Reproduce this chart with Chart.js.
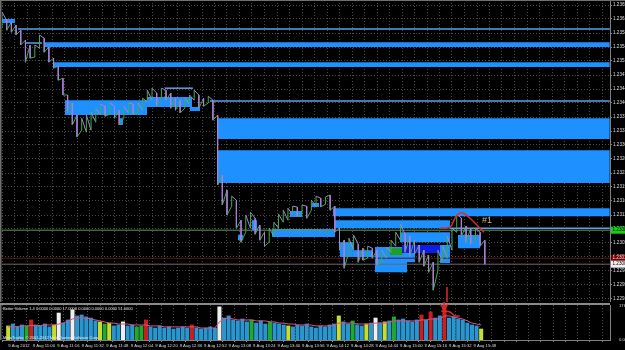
<!DOCTYPE html>
<html>
<head>
<meta charset="utf-8">
<script src="https://cdn.jsdelivr.net/npm/chart.js@4.4.1/dist/chart.umd.min.js"></script>
<style>
  html, body { margin: 0; padding: 0; background: #000; }
  #wrap { position: relative; width: 625px; height: 350px; background: #000; overflow: hidden; }
  #priceBox { position: absolute; left: 0; top: 0; width: 625px; height: 302px; }
  #volBox { position: absolute; left: 0; top: 302px; width: 625px; height: 48px; }
</style>
</head>
<body>
<div id="wrap">
  <div id="priceBox"><canvas id="priceChart"></canvas></div>
  <div id="volBox"><canvas id="volChart"></canvas></div>
</div>
<script>
// time axis: minutes from the first bar (9 Aug 2012 10:44), one label every 16 min
const xTickLabels = [
  "9 Aug 2012", "9 Aug 11:00", "9 Aug 11:16", "9 Aug 11:32", "9 Aug 11:48",
  "9 Aug 12:04", "9 Aug 12:20", "9 Aug 12:36", "9 Aug 12:52", "9 Aug 13:08",
  "9 Aug 13:24", "9 Aug 13:40", "9 Aug 13:56", "9 Aug 14:12", "9 Aug 14:28",
  "9 Aug 14:44", "9 Aug 15:00", "9 Aug 15:16", "9 Aug 15:32", "9 Aug 15:48",
];
const xTickEveryMinutes = 16;
const gridEveryMinutes = 8;
const barStepMinutes = 3;

const priceTicks = [
  1.23650, 1.23615, 1.23580, 1.23545, 1.23510, 1.23475, 1.23440, 1.23405, 1.23370, 1.23335, 1.23300,
  1.23265, 1.23230, 1.23195, 1.23160, 1.23125, 1.23090, 1.23055, 1.23020, 1.22985, 1.22950, 1.22915,
];

const barHigh = [
  1.23632, 1.23612, 1.23607, 1.23600, 1.23587, 1.23562, 1.23550, 1.23550, 1.23575, 1.23567,
  1.23545, 1.23517, 1.23497, 1.23467, 1.23425, 1.23405, 1.23375, 1.23367, 1.23375, 1.23382,
  1.23392, 1.23402, 1.23397, 1.23405, 1.23397, 1.23387, 1.23397, 1.23405, 1.23402, 1.23405,
  1.23417, 1.23437, 1.23442, 1.23430, 1.23442, 1.23437, 1.23430, 1.23417, 1.23412, 1.23417,
  1.23425, 1.23437, 1.23425, 1.23417, 1.23422, 1.23412, 1.23375, 1.23225, 1.23187, 1.23172,
  1.23162, 1.23112, 1.23125, 1.23132, 1.23117, 1.23100, 1.23082, 1.23092, 1.23107, 1.23127,
  1.23137, 1.23142, 1.23147, 1.23145, 1.23150, 1.23147, 1.23162, 1.23172, 1.23167, 1.23170,
  1.23175, 1.23147, 1.23092, 1.23062, 1.23067, 1.23075, 1.23052, 1.23042, 1.23047, 1.23042,
  1.23037, 1.23037, 1.23045, 1.23062, 1.23082, 1.23102, 1.23077, 1.23072, 1.23062, 1.23050,
  1.23037, 1.23025, 1.23007, 1.23037, 1.23047, 1.23072, 1.23092, 1.23127, 1.23117, 1.23097,
  1.23092, 1.23092, 1.23082, 1.23062,
];
const barLow = [
  1.23592, 1.23587, 1.23582, 1.23575, 1.23550, 1.23507, 1.23517, 1.23520, 1.23542, 1.23532,
  1.23507, 1.23492, 1.23462, 1.23425, 1.23382, 1.23350, 1.23320, 1.23337, 1.23332, 1.23337,
  1.23357, 1.23375, 1.23372, 1.23377, 1.23367, 1.23350, 1.23367, 1.23380, 1.23377, 1.23382,
  1.23387, 1.23407, 1.23412, 1.23397, 1.23417, 1.23412, 1.23392, 1.23387, 1.23380, 1.23392,
  1.23402, 1.23412, 1.23392, 1.23397, 1.23405, 1.23362, 1.23200, 1.23150, 1.23125, 1.23147,
  1.23092, 1.23057, 1.23082, 1.23092, 1.23077, 1.23062, 1.23047, 1.23057, 1.23072, 1.23092,
  1.23107, 1.23112, 1.23125, 1.23122, 1.23127, 1.23117, 1.23137, 1.23147, 1.23145, 1.23152,
  1.23137, 1.23082, 1.23037, 1.22992, 1.23032, 1.23037, 1.23007, 1.23012, 1.23017, 1.23017,
  1.23000, 1.23007, 1.23017, 1.23032, 1.23047, 1.23062, 1.23032, 1.23022, 1.23027, 1.23007,
  1.22997, 1.22982, 1.22937, 1.22987, 1.23007, 1.23017, 1.23037, 1.23082, 1.23072, 1.23057,
  1.23052, 1.23062, 1.23047, 1.23002,
];

// supply / demand zones: [from min, to min, top, bottom, kind]
const zones = [
  [0, 8.3, 1.23615, 1.23605, "zone"],
  [10.2, 389, 1.23590, 1.23590, "line"],
  [14.7, 25.6, 1.23555, 1.23555, "line"],
  [27.5, 389, 1.23557, 1.23545, "zone"],
  [32.6, 389, 1.23507, 1.23495, "zone"],
  [40.3, 92.8, 1.23412, 1.23375, "zone"],
  [75.5, 77.4, 1.23367, 1.23350, "zone"],
  [92.8, 121.6, 1.23420, 1.23395, "zone"],
  [104.3, 122.2, 1.23442, 1.23442, "line"],
  [120.3, 126.7, 1.23395, 1.23385, "zone"],
  [133.1, 389, 1.23410, 1.23410, "line"],
  [137.6, 389, 1.23367, 1.23315, "zone"],
  [137.6, 389, 1.23287, 1.23205, "zone"],
  [151, 154.2, 1.23075, 1.23062, "zone"],
  [160, 163.2, 1.23112, 1.23087, "zone"],
  [172.8, 213.1, 1.23090, 1.23070, "zone"],
  [184.3, 192, 1.23135, 1.23120, "zone"],
  [198.4, 202.9, 1.23155, 1.23145, "zone"],
  [211.8, 389, 1.23142, 1.23122, "zone"],
  [213.1, 286.7, 1.23112, 1.23092, "zone"],
  [216.3, 224.6, 1.23057, 1.23020, "zone"],
  [224.6, 237.4, 1.23037, 1.23020, "zone"],
  [238.7, 259.2, 1.23045, 1.22982, "zone"],
  [248.3, 256.6, 1.23042, 1.23025, "green"],
  [254.7, 286.7, 1.23082, 1.23057, "zone"],
  [256, 280.3, 1.23050, 1.23030, "dark"],
  [259.2, 264.3, 1.23030, 1.23007, "zone"],
  [280.3, 286.7, 1.23050, 1.23005, "zone"],
  [254.7, 259.2, 1.23005, 1.22982, "zone"],
  [286.7, 389, 1.23092, 1.23092, "line"],
  [291.8, 306, 1.23075, 1.23042, "zone"],
];

const levelValues = [1.23087, 1.23017, 1.23002];
const levelLabels = ["1.23087", "1.23017", "1.23002"];

// hand drawn marks
const markCurve = [[280.3, 1.23092], [286.7, 1.23095], [289.9, 1.23117], [291.8, 1.23127], [295, 1.23130], [299.5, 1.23117], [304.6, 1.23097], [308.5, 1.23082]];
const markText = "#1";
const markTextAt = [307.2, 1.23110];
const markShaftPrice = [[284.8, 1.22945], [284.8, 1.22907]];
const markShaftVol = [[284.8, 197], [284.8, 156]];
const markHeadVol = [[282.2, 187], [284.8, 156], [287.4, 187]];
const markCurveVol = [[282.9, 150], [288.6, 145], [291.8, 125], [295, 125]];

const volume = [
  73, 83, 68, 78, 73, 104, 78, 73, 83, 68,
  78, 140, 88, 104, 156, 125, 130, 120, 114, 99,
  94, 83, 88, 73, 78, 94, 73, 78, 68, 73,
  104, 68, 62, 73, 62, 68, 57, 62, 68, 62,
  78, 62, 57, 62, 68, 62, 172, 114, 125, 104,
  99, 109, 94, 104, 88, 99, 83, 94, 88, 83,
  78, 73, 68, 78, 73, 83, 68, 62, 73, 68,
  78, 83, 125, 94, 83, 99, 78, 73, 83, 88,
  114, 88, 94, 99, 120, 104, 109, 99, 94, 104,
  130, 104, 146, 114, 125, 192, 114, 120, 109, 104,
  88, 78, 73, 57,
];
const volumeMa = [
  68, 68, 70, 73, 73, 75, 75, 75, 78, 78,
  78, 83, 88, 99, 109, 114, 114, 114, 109, 104,
  99, 94, 88, 88, 83, 83, 83, 78, 78, 78,
  78, 73, 73, 73, 68, 68, 68, 68, 68, 68,
  68, 68, 62, 62, 62, 62, 94, 109, 114, 109,
  104, 104, 104, 104, 99, 99, 99, 94, 94, 88,
  88, 83, 83, 78, 78, 78, 78, 73, 73, 73,
  73, 78, 88, 88, 88, 88, 83, 83, 83, 83,
  88, 88, 88, 94, 99, 99, 99, 99, 99, 99,
  104, 104, 109, 109, 109, 125, 125, 120, 114, 109,
  99, 88, 83, 78,
];
// Better Volume bar types (default is "b")
const volumeKinds = {
  0: "y", 4: "g", 5: "r", 10: "y", 11: "w", 14: "w", 20: "y", 21: "g", 22: "y", 25: "w",
  28: "g", 29: "g", 30: "r", 40: "r", 46: "w", 53: "g", 57: "g", 61: "y", 72: "y", 75: "g",
  78: "y", 80: "w", 82: "y", 84: "g", 90: "r", 92: "r", 95: "r", 103: "y",
};
const volumeTicks = [0, 176.4];
const volumeHeader = "Better Volume 1.4 0.0000 0.0000 17.0000 0.0000 0.0000 0.0000 51.0000";
const copyrightText = "MetaTrader, \u00a9 2001-2012 MetaQuotes Software Corp.";

const X_MAX = 389.12;
const PRICE_MIN = 1.229075;
const PRICE_MAX = 1.236625;
const VOL_MAX = 181.6;

const colors = {
  grid: "#4a4a4a",
  frame: "#808080",
  text: "#dcdcdc",
  up: "#3cb043",
  down: "#a880d8",
  zone: "#1e90ff",
  line: "#5c9fee",
  dark: "#0c1ee6",
  green: "#1f9f1f",
  mark: "#e02a2a",
  markText: "#c8b478",
  levels: ["#5b9a5b", "#5c1818", "#6a6a6a"],
  levelBoxes: ["#14d214", "#7a0000", "#f0f0f0"],
  levelText: ["#000", "#e0e0e0", "#000"],
  vol: { b: "#2a96d0", r: "#c82020", w: "#eeeeee", y: "#c8dc30", g: "#22a82e" },
  volMa: "#d8508a",
};
const fontFamily = "'Liberation Sans', 'DejaVu Sans', sans-serif";

const barMinutes = barHigh.map((_, i) => i * barStepMinutes);
const gridMinutes = [];
for (let m = 0; m <= X_MAX; m += gridEveryMinutes) gridMinutes.push(m);

const toPoints = (arr) => arr.map(([x, y]) => ({ x, y }));

function buildPricePath() {
  const pts = [];
  barHigh.forEach((hi, i) => {
    const lo = barLow[i];
    const mid = (hi + lo) / 2;
    const prevMid = i ? (barHigh[i - 1] + barLow[i - 1]) / 2 : mid;
    const x = barMinutes[i];
    if (mid >= prevMid) pts.push({ x, y: lo }, { x, y: hi });
    else pts.push({ x, y: hi }, { x, y: lo });
  });
  return pts;
}

function markDataset(points, width, tension) {
  return {
    type: "line",
    data: toPoints(points),
    borderColor: colors.mark,
    borderWidth: width,
    tension: tension || 0,
    pointRadius: 0,
    fill: false,
    clip: false,
    order: 0,
  };
}

const framePlugin = {
  id: "frame",
  afterDraw(chart) {
    const { ctx, chartArea } = chart;
    ctx.save();
    ctx.fillStyle = "#707070";
    ctx.fillRect(0, chartArea.top, 1.5, chartArea.bottom - chartArea.top);
    ctx.restore();
  },
};

const priceLabelsPlugin = {
  id: "priceLabels",
  afterDraw(chart) {
    const { ctx, scales } = chart;
    const yS = scales.y;
    const xS = scales.x;
    ctx.save();
    ctx.font = `4.6px ${fontFamily}`;
    ctx.textBaseline = "middle";
    ctx.textAlign = "left";
    levelValues.forEach((v, i) => {
      const y = yS.getPixelForValue(v);
      ctx.fillStyle = colors.levelBoxes[i];
      ctx.fillRect(yS.left + 1, y - 3.5, 15, 7);
      ctx.fillStyle = colors.levelText[i];
      ctx.fillText(levelLabels[i], yS.left + 2.5, y);
    });
    ctx.fillStyle = "#707070";
    ctx.fillRect(0, 0, chart.width, 1);
    ctx.font = `9px ${fontFamily}`;
    ctx.fillStyle = colors.markText;
    ctx.fillText(markText, xS.getPixelForValue(markTextAt[0]), yS.getPixelForValue(markTextAt[1]));
    ctx.restore();
  },
};

function buildPriceChart() {
  const ctx = document.getElementById("priceChart").getContext("2d");

  const zoneDatasets = zones.map(([t0, t1, top, bottom, kind], i) => ({
    type: "line",
    data: [{ x: t0, y: top }, { x: t1, y: top }],
    borderColor: kind === "line" ? colors.line : "transparent",
    borderWidth: kind === "line" ? 1.5 : 0,
    backgroundColor: colors[kind],
    fill: kind === "line" ? false : { value: bottom },
    pointRadius: 0,
    order: 100 - i,
  }));

  const levelDatasets = levelValues.map((v, i) => ({
    type: "line",
    data: [{ x: 0, y: v }, { x: X_MAX, y: v }],
    borderColor: colors.levels[i],
    borderWidth: 1,
    pointRadius: 0,
    fill: false,
    order: 3,
  }));

  const pathDataset = {
    type: "line",
    data: buildPricePath(),
    borderWidth: 1,
    borderColor: colors.down,
    pointRadius: 0,
    fill: false,
    order: 1,
    segment: {
      borderColor: (c) => (c.p1.parsed.y >= c.p0.parsed.y ? colors.up : colors.down),
    },
  };

  new Chart(ctx, {
    type: "line",
    data: {
      datasets: [
        markDataset(markCurve, 1.5, 0.4),
        markDataset(markShaftPrice, 1.5),
        pathDataset,
        ...levelDatasets,
        ...zoneDatasets,
      ],
    },
    options: {
      responsive: true,
      maintainAspectRatio: false,
      animation: false,
      events: [],
      layout: { padding: { left: 2, top: 0, right: 0, bottom: 0 } },
      plugins: { legend: { display: false }, tooltip: { enabled: false } },
      scales: {
        x: {
          type: "linear",
          min: 0,
          max: X_MAX,
          z: 1,
          afterBuildTicks: (s) => { s.ticks = gridMinutes.map((v) => ({ value: v })); },
          afterFit: (s) => { s.height = 0; s.paddingLeft = 0; s.paddingRight = 0; },
          ticks: { display: false },
          grid: { color: colors.grid, drawTicks: false },
          border: { display: false, dash: [1, 2] },
        },
        y: {
          position: "right",
          min: PRICE_MIN,
          max: PRICE_MAX,
          z: 1,
          afterBuildTicks: (s) => { s.ticks = priceTicks.map((v) => ({ value: v })); },
          afterFit: (s) => { s.width = 15; s.paddingTop = 0; s.paddingBottom = 0; },
          ticks: {
            color: colors.text,
            padding: 1,
            font: { family: fontFamily, size: 4.6 },
            callback: (v) => Number(v).toFixed(5),
          },
          grid: { color: colors.grid, tickColor: colors.frame, tickLength: 2, tickBorderDash: [] },
          border: { color: colors.frame, dash: [1, 2] },
        },
      },
    },
    plugins: [framePlugin, priceLabelsPlugin],
  });
}

const volumeTextPlugin = {
  id: "volumeText",
  beforeDatasetsDraw(chart) {
    const { ctx } = chart;
    ctx.save();
    ctx.fillStyle = "#8a8a8a";
    ctx.fillRect(0, 1, 610, 2);
    ctx.restore();
  },
  afterDatasetsDraw(chart) {
    const { ctx, chartArea } = chart;
    ctx.save();
    ctx.font = `4px ${fontFamily}`;
    ctx.fillStyle = "#e8e8e8";
    ctx.textAlign = "left";
    ctx.textBaseline = "middle";
    ctx.fillText(volumeHeader, 3, chartArea.top + 3.5);
    ctx.fillText(copyrightText, 3, chartArea.bottom - 2.5);
    ctx.restore();
  },
};

function buildVolumeChart() {
  const ctx = document.getElementById("volChart").getContext("2d");

  new Chart(ctx, {
    type: "bar",
    data: {
      datasets: [
        markDataset(markShaftVol, 1.5),
        markDataset(markHeadVol, 1.2),
        markDataset(markCurveVol, 1.5, 0.3),
        {
          type: "line",
          data: volumeMa.map((v, i) => ({ x: barMinutes[i], y: v })),
          borderColor: colors.volMa,
          borderWidth: 1,
          pointRadius: 0,
          fill: false,
          order: 1,
        },
        {
          type: "bar",
          data: volume.map((v, i) => ({ x: barMinutes[i], y: v })),
          backgroundColor: volume.map((_, i) => colors.vol[volumeKinds[i] || "b"]),
          barThickness: 3.4,
          order: 2,
        },
      ],
    },
    options: {
      responsive: true,
      maintainAspectRatio: false,
      animation: false,
      events: [],
      layout: { padding: { left: 2, top: 3, right: 0, bottom: 0 } },
      plugins: { legend: { display: false }, tooltip: { enabled: false } },
      scales: {
        x: {
          type: "linear",
          min: 0,
          max: X_MAX,
          afterBuildTicks: (s) => { s.ticks = gridMinutes.map((v) => ({ value: v })); },
          afterFit: (s) => { s.height = 10; s.paddingLeft = 0; s.paddingRight = 0; },
          ticks: {
            align: "start",
            autoSkip: false,
            maxRotation: 0,
            padding: 1,
            color: colors.text,
            font: { family: fontFamily, size: 4.2 },
            callback: (v) => {
              const idx = v / xTickEveryMinutes;
              return Number.isInteger(idx) && idx < xTickLabels.length ? xTickLabels[idx] : "";
            },
          },
          grid: { color: colors.grid, tickColor: colors.frame, tickLength: 2, tickBorderDash: [] },
          border: { color: colors.frame, dash: [1, 2] },
        },
        y: {
          position: "right",
          min: 0,
          max: VOL_MAX,
          afterBuildTicks: (s) => { s.ticks = volumeTicks.map((v) => ({ value: v })); },
          afterFit: (s) => { s.width = 15; s.paddingTop = 0; s.paddingBottom = 0; },
          ticks: {
            color: colors.text,
            padding: 1,
            font: { family: fontFamily, size: 4.2 },
            callback: (v) => (v === 0 ? "0.00" : Number(v).toFixed(1)),
          },
          grid: { display: false },
          border: { color: colors.frame },
        },
      },
    },
    plugins: [framePlugin, volumeTextPlugin],
  });
}

buildPriceChart();
buildVolumeChart();
</script>
</body>
</html>
